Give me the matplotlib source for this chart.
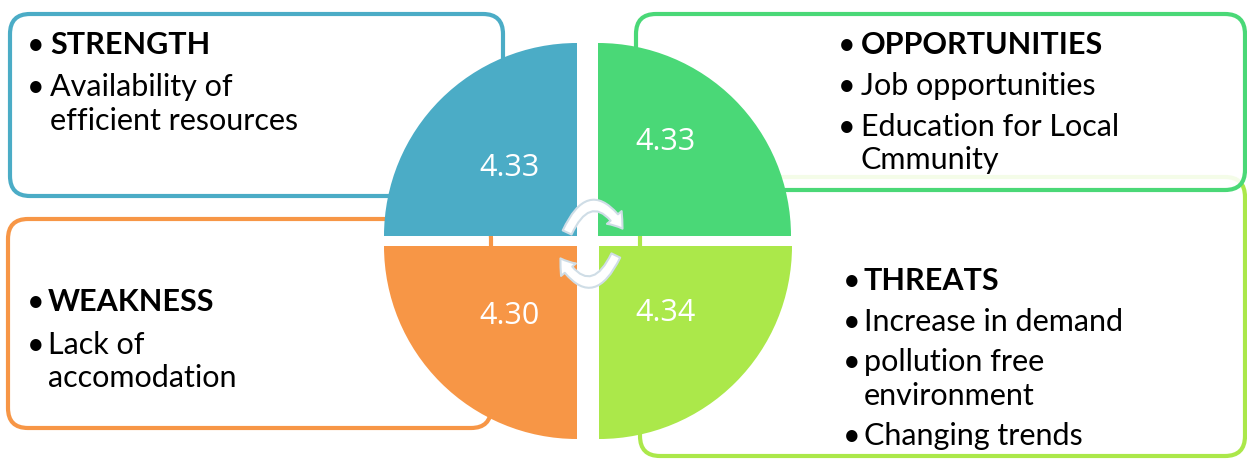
import matplotlib
matplotlib.use("Agg")
import matplotlib.pyplot as plt
from matplotlib.patches import FancyBboxPatch, Wedge, FancyArrowPatch

# ---- data ----
quadrants = ["STRENGTH", "OPPORTUNITIES", "WEAKNESS", "THREATS"]
scores = [4.33, 4.33, 4.30, 4.34]
strength_points = ["Availability of\nefficient resources"]
opportunity_points = ["Job opportunities", "Education for Local\nCmmunity"]
weakness_points = ["Lack of\naccomodation"]
threat_points = ["Increase in demand", "pollution free\nenvironment", "Changing trends"]
colors = ["#4BACC6", "#4AD877", "#F79646", "#ABE84A"]

W, H = 1247, 460
fig = plt.figure(figsize=(W / 100, H / 100), dpi=100)
ax = fig.add_axes([0, 0, 1, 1])
ax.set_xlim(0, W)
ax.set_ylim(H, 0)
ax.axis("off")

FONT = ["Lato", "DejaVu Sans"]
lw = 3.0

def box(x0, y0, x1, y1, color, z, fc="white", alpha=1.0):
    p = FancyBboxPatch((x0, y0), x1 - x0, y1 - y0,
                       boxstyle="round,pad=0,rounding_size=20",
                       facecolor="none", edgecolor=color, lw=lw, zorder=z)
    f = FancyBboxPatch((x0, y0), x1 - x0, y1 - y0,
                       boxstyle="round,pad=0,rounding_size=20",
                       facecolor=fc, edgecolor="none", alpha=alpha, zorder=z)
    ax.add_patch(f)
    ax.add_patch(p)

# boxes (threats first, opportunities drawn over with slightly translucent fill)
box(640, 178, 1245, 457, colors[3], 1)
box(636, 15, 1245, 191, colors[1], 2, alpha=0.88)
box(10, 15, 503, 197, colors[0], 1)
box(8, 220, 491, 429, colors[2], 1)

# circle quadrants
r = 193
wedges = [((577, 237), 180, 270), ((598, 237), 270, 360),
          ((577, 247), 90, 180), ((599, 247), 0, 90)]
for (c, t1, t2), col in zip(wedges, colors):
    ax.add_patch(Wedge(c, r, t1, t2, facecolor=col, edgecolor="none", zorder=5))

# scores
score_pos = [(509, 168), (665, 142), (509, 316), (666, 313)]
for (x, y), s in zip(score_pos, scores):
    ax.text(x, y, f"{s:.2f}", color="white", fontsize=22, ha="center", va="center",
            family=["Open Sans", "DejaVu Sans"], zorder=7)

# cycle arrows
astyle = "simple,head_length=10,head_width=14,tail_width=7"
a1 = FancyArrowPatch((566, 236), (624, 232), connectionstyle="arc3,rad=-0.95",
                     arrowstyle=astyle, facecolor="white", edgecolor="#CFDDE6",
                     lw=1.5, zorder=8, mutation_scale=1)
a2 = FancyArrowPatch((617, 254), (559, 257), connectionstyle="arc3,rad=-0.95",
                     arrowstyle=astyle, facecolor="white", edgecolor="#CFDDE6",
                     lw=1.5, zorder=8, mutation_scale=1)
ax.add_patch(a1)
ax.add_patch(a2)

# text blocks
def block(xb, xt, lines_y, header, points):
    fs = 22
    ax.text(xb, lines_y[0], "•", fontsize=fs, ha="left", va="center", family=FONT, zorder=10)
    ax.text(xt, lines_y[0], header, fontsize=fs, fontweight="bold", ha="left", va="center",
            family=FONT, zorder=10)
    i = 1
    for p in points:
        parts = p.split("\n")
        ax.text(xb, lines_y[i], "•", fontsize=fs, ha="left", va="center", family=FONT, zorder=10)
        for part in parts:
            ax.text(xt, lines_y[i], part, fontsize=fs, ha="left", va="center",
                    family=FONT, zorder=10)
            i += 1

block(27, 50, [45, 87, 121], quadrants[0], strength_points)
block(838, 861, [45, 86, 127, 160], quadrants[1], opportunity_points)
block(27, 48, [302, 345, 378], quadrants[2], weakness_points)
block(843, 864, [281, 322, 362, 396, 436], quadrants[3], threat_points)

fig.savefig("out.png", dpi=100, facecolor="white")
